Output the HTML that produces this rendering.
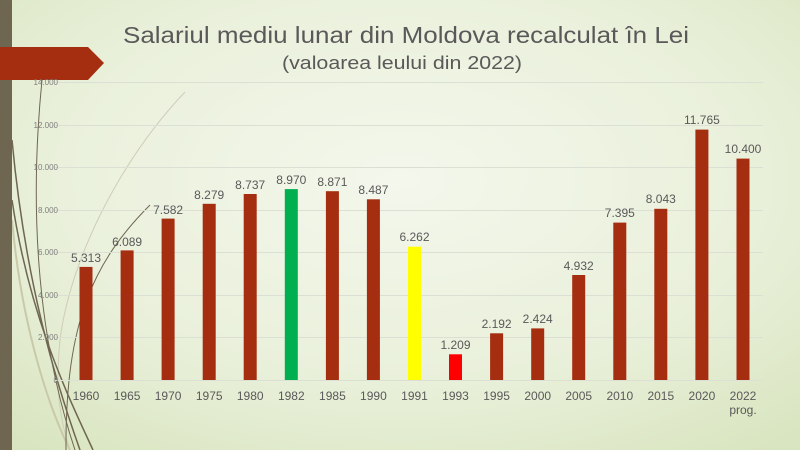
<!DOCTYPE html>
<html><head><meta charset="utf-8"><style>
html,body{margin:0;padding:0;width:800px;height:450px;overflow:hidden}
svg{display:block;font-family:"Liberation Sans",sans-serif}
</style></head><body>
<svg width="800" height="450" viewBox="0 0 800 450">
<defs>
<radialGradient id="bg" cx="0.5" cy="0.4" r="0.75">
<stop offset="0" stop-color="#f4f7ec"/>
<stop offset="0.6" stop-color="#e9f0da"/>
<stop offset="1" stop-color="#d9e5c0"/>
</radialGradient>
</defs>
<rect width="800" height="450" fill="url(#bg)"/>
<!-- decorative curves -->
<g fill="none">
<path d="M185 92 C120 160 70 260 60 340 C55 390 60 420 70 450" stroke="#cfcdb8" stroke-width="1"/>
<path d="M42 80 C30 200 35 330 75 450" stroke="#6f6651" stroke-width="1"/>
<path d="M12 140 C25 280 55 380 80 450" stroke="#6f6651" stroke-width="1.5"/>
<path d="M12 200 C30 320 70 400 93 450" stroke="#6f6651" stroke-width="1.5"/>
<path d="M12 220 C22 330 50 410 70 450" stroke="#c9c9aa" stroke-width="2"/>
<path d="M150 205 C95 260 65 320 66 450" stroke="#6f6651" stroke-width="1"/>
</g>
<rect x="0" y="0" width="12" height="450" fill="#6f6651"/>
<polygon points="0,47 88,47 104,63 88,80 0,80" fill="#a52d10"/>
<!-- title -->
<text x="406" y="43" text-anchor="middle" font-size="23" fill="#595959" textLength="566" lengthAdjust="spacingAndGlyphs">Salariul mediu lunar din Moldova recalculat în Lei</text>
<text x="402" y="69" text-anchor="middle" font-size="18" fill="#595959" textLength="240" lengthAdjust="spacingAndGlyphs">(valoarea leului din 2022)</text>
<!-- grid -->
<g stroke="#dcdfd4" stroke-width="1">
<line x1="55" x2="763" y1="82.5" y2="82.5"/>
<line x1="55" x2="763" y1="125.5" y2="125.5"/>
<line x1="55" x2="763" y1="167.5" y2="167.5"/>
<line x1="55" x2="763" y1="210.5" y2="210.5"/>
<line x1="55" x2="763" y1="252.5" y2="252.5"/>
<line x1="55" x2="763" y1="295.5" y2="295.5"/>
<line x1="55" x2="763" y1="337.5" y2="337.5"/>
<line x1="55" x2="763" y1="380.5" y2="380.5"/>
</g>
<g font-size="8" fill="#7f7f7f" text-anchor="end">
<text x="58" y="85">14.000</text><text x="58" y="128">12.000</text><text x="58" y="170">10.000</text>
<text x="58" y="213">8.000</text><text x="58" y="255">6.000</text><text x="58" y="298">4.000</text>
<text x="58" y="340">2.000</text><text x="58" y="383">0</text>
</g>
<!-- bars -->
<g>
<rect x="79.5" y="266.9" width="13" height="113.1" fill="#a52d10"/>
<rect x="120.6" y="250.4" width="13" height="129.6" fill="#a52d10"/>
<rect x="161.6" y="218.6" width="13" height="161.4" fill="#a52d10"/>
<rect x="202.7" y="203.8" width="13" height="176.2" fill="#a52d10"/>
<rect x="243.7" y="194.0" width="13" height="186.0" fill="#a52d10"/>
<rect x="284.8" y="189.1" width="13" height="190.9" fill="#00b050"/>
<rect x="325.9" y="191.2" width="13" height="188.8" fill="#a52d10"/>
<rect x="366.9" y="199.3" width="13" height="180.7" fill="#a52d10"/>
<rect x="408.0" y="246.7" width="13" height="133.3" fill="#ffff00"/>
<rect x="449.0" y="354.3" width="13" height="25.7" fill="#ff0000"/>
<rect x="490.1" y="333.3" width="13" height="46.7" fill="#a52d10"/>
<rect x="531.2" y="328.4" width="13" height="51.6" fill="#a52d10"/>
<rect x="572.2" y="275.0" width="13" height="105.0" fill="#a52d10"/>
<rect x="613.3" y="222.6" width="13" height="157.4" fill="#a52d10"/>
<rect x="654.3" y="208.8" width="13" height="171.2" fill="#a52d10"/>
<rect x="695.4" y="129.6" width="13" height="250.4" fill="#a52d10"/>
<rect x="736.5" y="158.6" width="13" height="221.4" fill="#a52d10"/>
</g>
<g font-size="12" fill="#595959" text-anchor="middle">
<text x="86" y="262">5.313</text><text x="127.1" y="246">6.089</text><text x="168.1" y="214">7.582</text>
<text x="209.2" y="199">8.279</text><text x="250.2" y="189">8.737</text><text x="291.3" y="184">8.970</text>
<text x="332.4" y="186">8.871</text><text x="373.4" y="194">8.487</text><text x="414.5" y="241">6.262</text>
<text x="455.5" y="349">1.209</text><text x="496.6" y="328">2.192</text><text x="537.7" y="323">2.424</text>
<text x="578.7" y="270">4.932</text><text x="619.8" y="217">7.395</text><text x="660.8" y="203">8.043</text>
<text x="701.9" y="124">11.765</text><text x="743" y="153">10.400</text>
</g>
<g font-size="12" fill="#595959" text-anchor="middle">
<text x="86" y="400">1960</text><text x="127.1" y="400">1965</text><text x="168.1" y="400">1970</text>
<text x="209.2" y="400">1975</text><text x="250.2" y="400">1980</text><text x="291.3" y="400">1982</text>
<text x="332.4" y="400">1985</text><text x="373.4" y="400">1990</text><text x="414.5" y="400">1991</text>
<text x="455.5" y="400">1993</text><text x="496.6" y="400">1995</text><text x="537.7" y="400">2000</text>
<text x="578.7" y="400">2005</text><text x="619.8" y="400">2010</text><text x="660.8" y="400">2015</text>
<text x="701.9" y="400">2020</text><text x="743" y="400">2022</text><text x="743" y="414">prog.</text>
</g>
</svg>
</body></html>
